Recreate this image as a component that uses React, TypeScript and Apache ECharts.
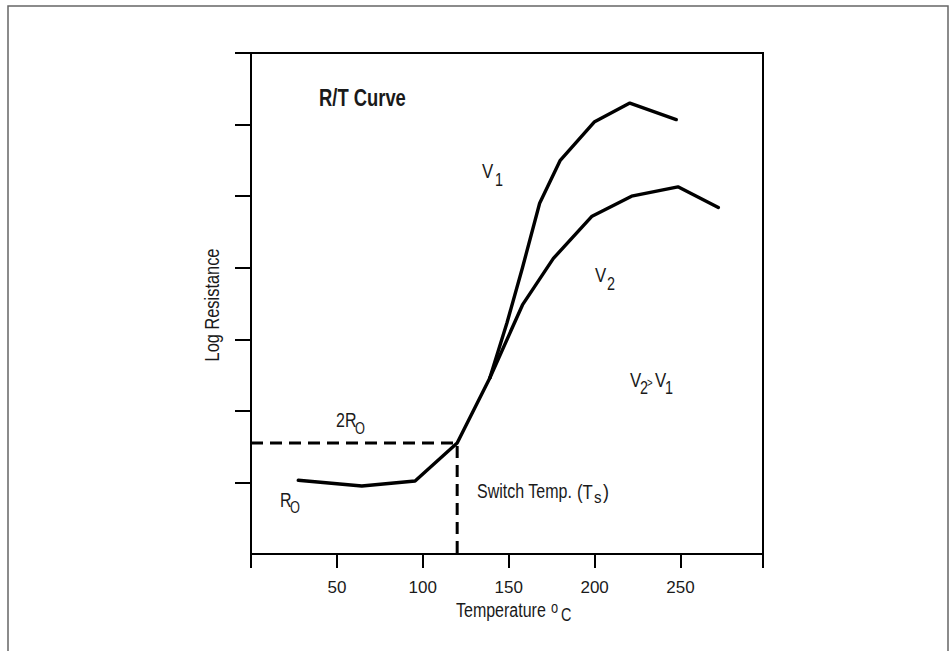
import React, { useEffect, useRef } from "react";
import * as echarts from "echarts";

// Temperature (°C) vs log resistance (axis units, 7 unlabeled divisions)
const baseCurve: [number, number][] = [
  [27.5, 1.03],
  [64.5, 0.95],
  [95.5, 1.02],
  [120, 1.55],
  [139, 2.46],
];
const v1Curve: [number, number][] = [
  [139, 2.46],
  [149, 3.23],
  [158, 4.0],
  [168, 4.9],
  [180, 5.5],
  [200, 6.04],
  [220.5, 6.3],
  [247.5, 6.07],
];
const v2Curve: [number, number][] = [
  [139, 2.46],
  [158, 3.48],
  [176, 4.13],
  [198.5, 4.72],
  [221.5, 5.0],
  [248.5, 5.13],
  [272, 4.84],
];
const switchGuide: [number, number][] = [
  [0, 1.55],
  [120, 1.55],
  [120, 0],
];
const xTickValues = [0, 50, 100, 150, 200, 250, 298];
const xLabelValues = [50, 100, 150, 200, 250];
const yTickValues = [1, 2, 3, 4, 5, 6, 7];

const FONT = "'Liberation Sans', Arial, sans-serif";
const INK = "#1a1a1a";
const NARROW_SCALE = 0.8;

function txt(text: string, x: number, y: number, size: number, opts: any = {}) {
  const sx = opts.scale || NARROW_SCALE;
  return {
    type: "text",
    x,
    y,
    rotation: opts.rotation || 0,
    scaleX: sx,
    scaleY: 1,
    style: {
      text,
      fill: INK,
      font: `${opts.bold ? "bold " : ""}${size}px ${FONT}`,
      align: opts.align || "left",
      verticalAlign: "middle",
    },
  };
}

export default function App() {
  const ref = useRef<HTMLDivElement>(null);
  useEffect(() => {
    if (!ref.current) return;
    const chart = echarts.init(ref.current, null, { renderer: "svg" });
    const lineCommon = {
      type: "line",
      showSymbol: false,
      symbol: "none",
      clip: false,
      lineStyle: { color: "#000", width: 3.4, join: "round", cap: "round" },
    };
    chart.setOption({
      animation: false,
      backgroundColor: "#fff",
      grid: {
        left: 251,
        top: 53,
        right: 189,
        bottom: 97,
        show: true,
        borderColor: "#000",
        borderWidth: 2,
      },
      xAxis: {
        type: "value",
        min: 0,
        max: 298,
        interval: 50,
        splitLine: { show: false },
        axisLine: { lineStyle: { color: "#000", width: 2 } },
        axisTick: {
          show: true,
          inside: false,
          length: 14,
          lineStyle: { color: "#000", width: 2 },
          customValues: xTickValues,
        },
        axisLabel: {
          customValues: xLabelValues,
          margin: 25,
          color: INK,
          fontSize: 17,
          fontFamily: FONT,
          formatter: (v: number) => (v === 0 ? "" : String(v)),
        },
      },
      yAxis: {
        type: "value",
        min: 0,
        max: 7,
        interval: 1,
        splitLine: { show: false },
        axisLine: { lineStyle: { color: "#000", width: 2 } },
        axisTick: {
          show: true,
          inside: false,
          length: 16,
          lineStyle: { color: "#000", width: 2 },
          customValues: yTickValues,
        },
        axisLabel: { show: false },
      },
      series: [
        { ...lineCommon, name: "R0", data: baseCurve },
        { ...lineCommon, name: "V1", data: v1Curve },
        { ...lineCommon, name: "V2", data: v2Curve },
        {
          type: "line",
          name: "Switch",
          symbol: "none",
          data: switchGuide,
          lineStyle: { color: "#000", width: 3, type: [12, 7] },
        },
      ],
      graphic: [
        {
          type: "rect",
          shape: { x: 8, y: 6, width: 940, height: 700 },
          style: { fill: "none", stroke: "#666", lineWidth: 1.5 },
          silent: true,
        },
        txt("R/T Curve", 319, 98, 23, { bold: true }),
        txt("V", 482, 171, 21),
        txt("1", 495, 179, 18),
        txt("V", 595, 275, 21),
        txt("2", 607, 283, 18),
        txt("V", 630, 380, 21),
        txt("2", 640, 387, 18),
        txt(">", 647, 383, 12),
        txt("V", 655, 380, 21),
        txt("1", 665, 387, 18),
        txt("2R", 336, 420, 20),
        txt("O", 355, 428, 16),
        txt("R", 280, 500, 20),
        txt("O", 290, 507, 16),
        txt("Switch Temp.", 477, 491, 20),
        txt("(T", 577, 492, 20, { scale: 0.84 }),
        txt("s", 594, 497, 16, { scale: 0.95 }),
        txt(")", 603, 492, 20, { scale: 0.9 }),
        txt("Temperature", 456, 610, 20),
        txt("o", 551, 607, 16),
        txt("C", 561, 614, 18),
        txt("Log Resistance", 212, 305, 20, { rotation: Math.PI / 2, align: "center", scale: 0.82 }),
      ],
    });
    return () => chart.dispose();
  }, []);
  return (
    <div
      ref={ref}
      style={{ position: "fixed", left: 0, top: 0, width: 952, height: 651, background: "#fff" }}
    />
  );
}
